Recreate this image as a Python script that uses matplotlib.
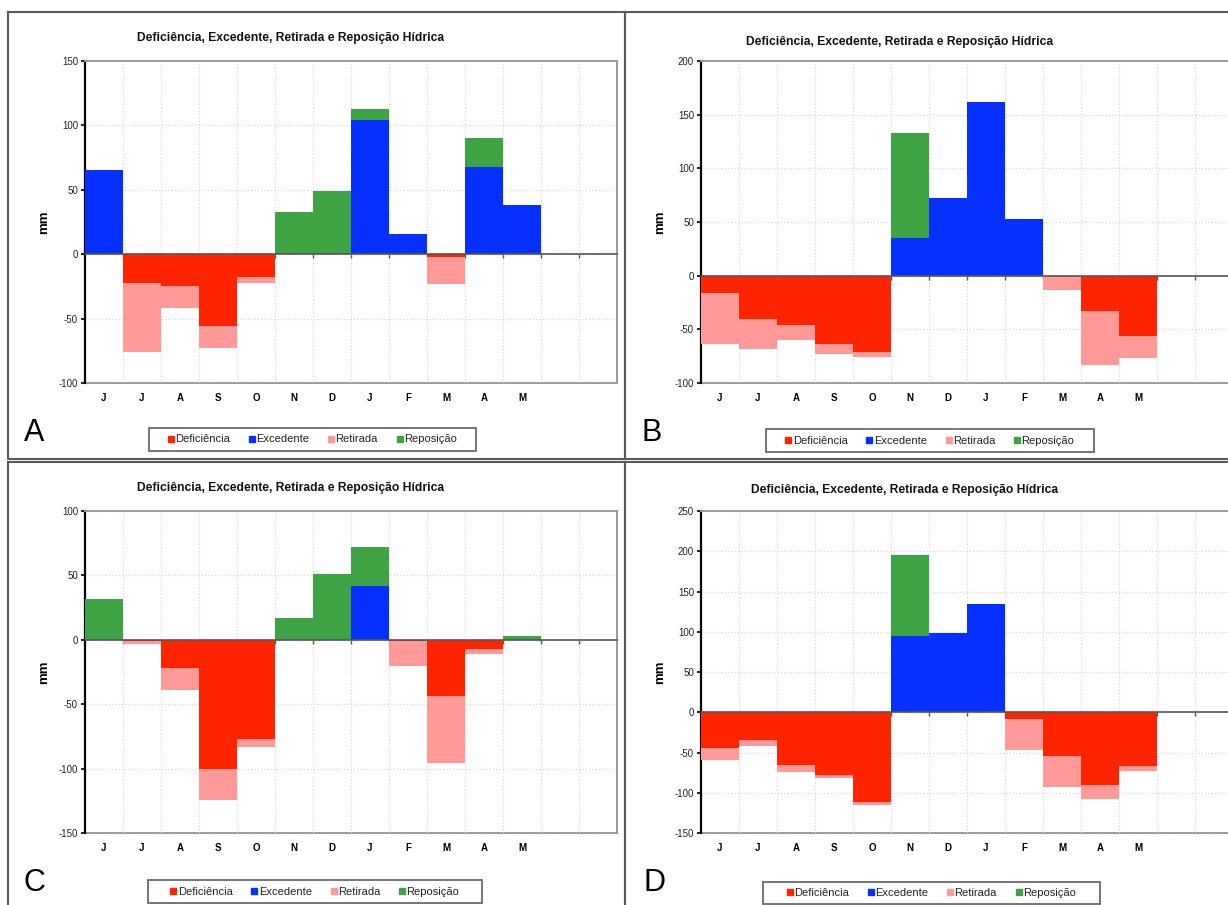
import matplotlib
matplotlib.use("Agg")
import matplotlib.pyplot as plt
import numpy as np
from matplotlib.lines import Line2D
from matplotlib.patches import Rectangle

# ---------------------------------------------------------------- data (mm)
meses = ["J", "J", "A", "S", "O", "N", "D", "J", "F", "M", "A", "M"]
n_slots = 14  # two empty slots after May

legenda = ["Deficiência", "Excedente", "Retirada", "Reposição"]
titulo = "Deficiência, Excedente, Retirada e Reposição Hídrica"

# Panel A
def_A = [0, 22, 25, 56, 18, 0, 0, 0, 0, 2, 0, 0]
ret_A = [0, 54, 17, 17, 4, 0, 0, 0, 0, 21, 0, 0]
exc_A = [65, 0, 0, 0, 0, 0, 0, 104, 16, 0, 68, 38]
rep_A = [0, 0, 0, 0, 0, 33, 49, 9, 0, 0, 22, 0]
yticks_A = [-100, -50, 0, 50, 100, 150]

# Panel B
def_B = [16, 40, 46, 64, 71, 0, 0, 0, 0, 0, 33, 56]
ret_B = [48, 28, 14, 9, 5, 0, 0, 0, 0, 13, 50, 21]
exc_B = [0, 0, 0, 0, 0, 35, 72, 162, 53, 0, 0, 0]
rep_B = [0, 0, 0, 0, 0, 98, 0, 0, 0, 0, 0, 0]
yticks_B = [-100, -50, 0, 50, 100, 150, 200]

# Panel C
def_C = [0, 1, 22, 100, 77, 0, 0, 0, 1, 44, 7, 0]
ret_C = [0, 2, 17, 24, 6, 0, 0, 0, 19, 52, 4, 0]
exc_C = [0, 0, 0, 0, 0, 0, 0, 42, 0, 0, 0, 0]
rep_C = [32, 0, 0, 0, 0, 17, 51, 30, 0, 0, 0, 3]
yticks_C = [-150, -100, -50, 0, 50, 100]

# Panel D
def_D = [44, 35, 66, 78, 111, 0, 0, 0, 8, 54, 90, 67]
ret_D = [15, 7, 8, 4, 4, 0, 0, 0, 39, 39, 18, 6]
exc_D = [0, 0, 0, 0, 0, 95, 98, 135, 0, 0, 0, 0]
rep_D = [0, 0, 0, 0, 0, 100, 0, 0, 0, 0, 0, 0]
yticks_D = [-150, -100, -50, 0, 50, 100, 150, 200, 250]

# ---------------------------------------------------------------- style
RED = "#ff2400"
BLUE = "#0530ff"
PINK = "#ff9a98"
GREEN = "#3ea443"
cores = [RED, BLUE, PINK, GREEN]

SANS = ["Liberation Sans", "DejaVu Sans"]
plt.rcParams["font.family"] = SANS
plt.rcParams["axes.unicode_minus"] = False

W, H = 1228, 905
fig = plt.figure(figsize=(W / 100, H / 100), dpi=100)


def fx(px):
    return px / W


def fy(py):
    return 1 - py / H


def painel(box, yticks, deficiencia, excedente, retirada, reposicao,
           title_pos, letra, letra_pos, leg_box):
    left, top, right, bottom = box
    ax = fig.add_axes([fx(left), fy(bottom), (right - left) / W, (bottom - top) / H])
    x = np.arange(len(meses))
    d = -np.asarray(deficiencia, float)
    r = -np.asarray(retirada, float)
    e = np.asarray(excedente, float)
    p = np.asarray(reposicao, float)

    ax.bar(x, d, width=1.0, color=RED, linewidth=0, zorder=3)
    ax.bar(x, r, bottom=d, width=1.0, color=PINK, linewidth=0, zorder=3)
    ax.bar(x, e, width=1.0, color=BLUE, linewidth=0, zorder=3)
    ax.bar(x, p, bottom=e, width=1.0, color=GREEN, linewidth=0, zorder=3)

    ax.set_xlim(-0.5, n_slots - 0.5)
    ax.set_ylim(yticks[0], yticks[-1])
    ax.set_yticks(yticks)
    ax.tick_params(axis="y", labelsize=7, length=3, width=1.2,
                   color="black", pad=2, labelcolor="#222222")

    # zero axis with small marks at the month boundaries
    ax.spines["bottom"].set_position(("data", 0))
    ax.spines["bottom"].set_color("#555555")
    ax.spines["bottom"].set_linewidth(1.2)
    ax.spines["bottom"].set_zorder(4)
    ax.set_xticks(np.arange(n_slots - 1) + 0.5)
    ax.tick_params(axis="x", labelbottom=False, length=3, width=1.0,
                   color="#555555", direction="out")

    ax.spines["left"].set_color("black")
    ax.spines["left"].set_linewidth(1.6)
    ax.spines["top"].set_color("#9a9a9a")
    ax.spines["top"].set_linewidth(1.4)
    ax.spines["right"].set_color("#9a9a9a")
    ax.spines["right"].set_linewidth(1.4)

    ax.grid(True, color="#d9d9d9", linestyle=":", linewidth=0.9)
    ax.set_axisbelow(True)

    # month labels on the lower frame
    sec = ax.secondary_xaxis(0.0)
    sec.set_xticks(x)
    sec.set_xticklabels(meses)
    sec.tick_params(length=0, pad=7, labelsize=7)
    for t in sec.get_xticklabels():
        t.set_fontweight("bold")
    sec.spines["bottom"].set_color("#9a9a9a")
    sec.spines["bottom"].set_linewidth(1.4)

    ax.set_ylabel("mm", fontsize=9.5, fontweight="bold", labelpad=6)

    fig.text(fx(title_pos[0]), fy(title_pos[1]), titulo, ha="center", va="center",
             fontsize=8.7, fontweight="bold", color="#111111")
    fig.text(fx(letra_pos[0]), fy(letra_pos[1]), letra, ha="left", va="baseline",
             fontsize=22, color="black")

    lx0, ly0, lx1, ly1 = leg_box
    fig.patches.append(Rectangle((fx(lx0), fy(ly1)), (lx1 - lx0) / W, (ly1 - ly0) / H,
                                 transform=fig.transFigure, fill=False,
                                 edgecolor="#6a6a6a", linewidth=1.3))
    handles = [Line2D([], [], marker="s", linestyle="none", color=c,
                      markersize=5) for c in cores]
    fig.legend(handles, legenda, loc="center",
               bbox_to_anchor=(fx((lx0 + lx1) / 2), fy((ly0 + ly1) / 2)),
               ncol=4, frameon=False, fontsize=8, handlelength=0.5,
               handletextpad=0.15, columnspacing=1.7, borderpad=0.2,
               labelcolor="#222222")
    return ax


painel((85, 61, 617, 383), yticks_A, def_A, exc_A, ret_A, rep_A,
       (291, 38), "A", (24, 441), (149, 428, 476, 451))
painel((701, 61, 1233, 383), yticks_B, def_B, exc_B, ret_B, rep_B,
       (900, 42), "B", (641, 441), (766, 429, 1094, 452))
painel((85, 511, 617, 833), yticks_C, def_C, exc_C, ret_C, rep_C,
       (291, 488), "C", (24, 891), (148, 880, 482, 903))
painel((701, 511, 1233, 833), yticks_D, def_D, exc_D, ret_D, rep_D,
       (905, 490), "D", (644, 891), (763, 882, 1100, 904))

# outer frames around the four panels
frame_kw = dict(transform=fig.transFigure, color="#5a5a5a", linewidth=1.5)
for (x0, y0, x1, y1) in [(8, 12, 625, 459), (625, 12, 1240, 459),
                         (8, 462, 625, 920), (625, 462, 1240, 920)]:
    fig.add_artist(Line2D([fx(x0), fx(x1), fx(x1), fx(x0), fx(x0)],
                          [fy(y0), fy(y0), fy(y1), fy(y1), fy(y0)], **frame_kw))

fig.savefig("out.png", dpi=100, facecolor="white")
